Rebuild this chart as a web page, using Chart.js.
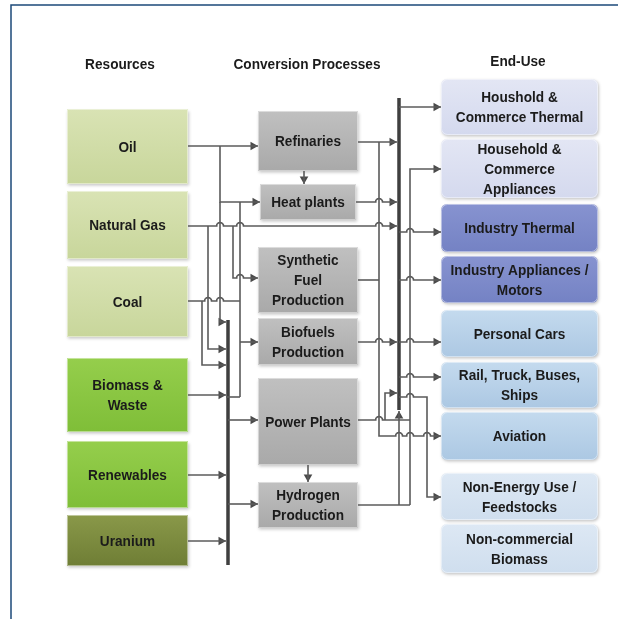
<!DOCTYPE html>
<html>
<head>
<meta charset="utf-8">
<script src="https://cdn.jsdelivr.net/npm/chart.js@4.4.1/dist/chart.umd.min.js"></script>
<style>
  html, body { margin: 0; padding: 0; background: #fff; }
  canvas { display: block; }
</style>
</head>
<body>
<canvas id="chart" width="618" height="619"></canvas>
<script>
// ---- diagram content ----
const headers = ['Resources', 'Conversion Processes', 'End-Use'];
const resources = ['Oil', 'Natural Gas', 'Coal', 'Biomass &\nWaste', 'Renewables', 'Uranium'];
const processes = ['Refinaries', 'Heat plants', 'Synthetic\nFuel\nProduction', 'Biofuels\nProduction', 'Power Plants', 'Hydrogen\nProduction'];
const endUses = [
  'Houshold &\nCommerce Thermal', 'Household &\nCommerce\nAppliances', 'Industry Thermal',
  'Industry Appliances /\nMotors', 'Personal Cars', 'Rail, Truck, Buses,\nShips',
  'Aviation', 'Non-Energy Use /\nFeedstocks', 'Non-commercial\nBiomass'
];

// ---- layout (in diagram units, one unit = one pixel) ----
const headerPos = [[120, 64], [307, 64], [518, 61]];
const resCol = [67, 188];
const resTop = [109, 191, 266, 358, 441, 515];
const resBottom = [184, 259, 337, 432, 508, 566];
const procCol = [258, 358];
const procTop = [111, 184, 247, 318, 378, 482];
const procBottom = [171, 220, 313, 365, 465, 528];
const endCol = [441, 598];
const endTop = [79, 139, 204, 256, 310, 362, 412, 473, 524];
const endBottom = [135, 198, 252, 303, 357, 408, 460, 520, 573];

const resFill = [
  ['#d9e3b4', '#c8d69b'], ['#d9e3b4', '#c8d69b'], ['#d9e3b4', '#c8d69b'],
  ['#95ce4c', '#7fbe38'], ['#95ce4c', '#7fbe38'], ['#899849', '#6f7e35']
];
const procFill = ['#c0c0c0', '#a9a9a9'];
const endFill = [
  ['#e3e6f4', '#d4d9ee'], ['#e3e6f4', '#d4d9ee'], ['#8793d0', '#7482c4'],
  ['#8793d0', '#7482c4'], ['#c4daee', '#acc8e3'], ['#c4daee', '#acc8e3'],
  ['#c4daee', '#acc8e3'], ['#dde8f4', '#cfdeee'], ['#dde8f4', '#cfdeee']
];

// ---- flows: polyline vertices, crossings drawn as hops, arrow at the end ----
const flows = [
  { pts: [[188, 146], [258, 146]], hops: [], arrow: 'r' },                 // oil -> refinaries
  { pts: [[220, 146], [220, 202], [260, 202]], hops: [], arrow: 'r' },     // oil -> heat plants
  { pts: [[220, 202], [220, 322], [226, 322]], hops: [], arrow: 'r' },     // oil -> bus
  { pts: [[188, 226], [397, 226]], hops: [220, 240, 379], arrow: 'r' },    // gas -> end-use bus
  { pts: [[208, 226], [208, 349], [226, 349]], hops: [], arrow: 'r' },     // gas -> bus
  { pts: [[233, 226], [233, 278], [258, 278]], hops: [240], arrow: 'r' },  // gas -> synthetic fuel
  { pts: [[240, 202], [240, 397]], hops: [], arrow: null },                // biomass riser
  { pts: [[240, 342], [258, 342]], hops: [], arrow: 'r' },                 // -> biofuels
  { pts: [[188, 301], [240, 301]], hops: [208, 220], arrow: null },        // coal
  { pts: [[202, 301], [202, 365], [226, 365]], hops: [], arrow: 'r' },     // coal -> bus
  { pts: [[188, 395], [226, 395]], hops: [], arrow: 'r' },                 // biomass -> bus
  { pts: [[226, 397], [240, 397]], hops: [], arrow: null },
  { pts: [[188, 475], [226, 475]], hops: [], arrow: 'r' },                 // renewables
  { pts: [[188, 541], [226, 541]], hops: [], arrow: 'r' },                 // uranium
  { pts: [[228, 420], [258, 420]], hops: [], arrow: 'r' },                 // bus -> power
  { pts: [[228, 504], [258, 504]], hops: [], arrow: 'r' },                 // bus -> hydrogen
  { pts: [[304, 171], [304, 184]], hops: [], arrow: 'd' },                 // refinaries -> heat
  { pts: [[308, 465], [308, 482]], hops: [], arrow: 'd' },                 // power -> hydrogen
  { pts: [[399, 107], [441, 107]], hops: [], arrow: 'r' },
  { pts: [[358, 142], [397, 142]], hops: [], arrow: 'r' },
  { pts: [[379, 142], [379, 436], [441, 436]], hops: [399, 410, 427], arrow: 'r' },
  { pts: [[356, 202], [397, 202]], hops: [379], arrow: 'r' },
  { pts: [[358, 280], [379, 280]], hops: [], arrow: null },
  { pts: [[358, 342], [397, 342]], hops: [379], arrow: 'r' },
  { pts: [[399, 232], [441, 232]], hops: [410], arrow: 'r' },
  { pts: [[399, 280], [441, 280]], hops: [410], arrow: 'r' },
  { pts: [[399, 342], [441, 342]], hops: [410], arrow: 'r' },
  { pts: [[399, 377], [441, 377]], hops: [410], arrow: 'r' },
  { pts: [[399, 397], [427, 397], [427, 497], [441, 497]], hops: [410], arrow: 'r' },
  { pts: [[358, 420], [410, 420]], hops: [379], arrow: null },
  { pts: [[385, 420], [385, 393], [397, 393]], hops: [], arrow: 'r' },
  { pts: [[399, 505], [399, 411]], hops: [], arrow: 'u' },
  { pts: [[358, 505], [410, 505]], hops: [], arrow: null },
  { pts: [[410, 505], [410, 169], [441, 169]], hops: [], arrow: 'r' }
];
const buses = [
  [[228, 320], [228, 565]],
  [[399, 98], [399, 410]]
];

// ---- build datasets ----
const HOP_R = 3.5;
const ARROW_R = 5;

function expand(flow) {
  const out = [];
  for (let i = 0; i < flow.pts.length; i++) {
    const [x, y] = flow.pts[i];
    if (i > 0) {
      const [px, py] = flow.pts[i - 1];
      if (py === y) {
        const dir = x > px ? 1 : -1;
        const hs = flow.hops.filter(h => (h - px) * dir > 0 && (x - h) * dir > 0)
          .sort((a, b) => (a - b) * dir);
        hs.forEach(h => {
          for (let k = 0; k <= 8; k++) {
            const a = Math.PI * (dir > 0 ? 1 - k / 8 : k / 8);
            out.push({ x: h + HOP_R * Math.cos(a), y: y - HOP_R * Math.sin(a) });
          }
        });
      }
    }
    out.push({ x, y });
  }
  return out;
}

const arrowRot = { r: 90, d: 180, u: 0 };
const arrowShift = { r: [-1, 0], d: [0, -1], u: [0, 1] };
const arrows = flows.filter(f => f.arrow).map(f => {
  const [x, y] = f.pts[f.pts.length - 1];
  const s = arrowShift[f.arrow];
  return { x: x + s[0] * ARROW_R, y: y + s[1] * ARROW_R, rot: arrowRot[f.arrow] };
});

const datasets = [];
flows.forEach(f => datasets.push({
  data: expand(f), showLine: true, borderColor: '#5b5b5b', borderWidth: 1.6,
  pointRadius: 0, tension: 0, fill: false
}));
buses.forEach(b => datasets.push({
  data: b.map(([x, y]) => ({ x, y })), showLine: true, borderColor: '#3f3f3f',
  borderWidth: 3.5, pointRadius: 0, fill: false
}));
datasets.push({
  data: arrows.map(a => ({ x: a.x, y: a.y })), showLine: false,
  pointStyle: 'triangle', pointRadius: ARROW_R, rotation: arrows.map(a => a.rot),
  backgroundColor: '#4a4a4a', borderWidth: 0
});

// ---- boxes, labels and frame ----
// the source uses a condensed bold face: taller glyphs squeezed horizontally
const FONT = 'bold 15.5px "Liberation Sans", Arial, sans-serif';
const SQUEEZE = 0.88;

function drawBox(ctx, xs, ys, x0, x1, y0, y1, fill, radius) {
  const l = xs.getPixelForValue(x0), r = xs.getPixelForValue(x1);
  const t = ys.getPixelForValue(y0), b = ys.getPixelForValue(y1);
  const g = ctx.createLinearGradient(0, t, 0, b);
  g.addColorStop(0, fill[0]);
  g.addColorStop(1, fill[1]);
  ctx.save();
  ctx.shadowColor = 'rgba(0,0,0,0.22)';
  ctx.shadowBlur = 3;
  ctx.shadowOffsetX = 1;
  ctx.shadowOffsetY = 1.5;
  ctx.beginPath();
  ctx.roundRect(l, t, r - l, b - t, radius);
  ctx.fillStyle = g;
  ctx.fill();
  ctx.restore();
  ctx.save();
  ctx.beginPath();
  ctx.roundRect(l + 0.5, t + 0.5, r - l - 1, b - t - 1, radius);
  ctx.strokeStyle = 'rgba(255,255,255,0.45)';
  ctx.lineWidth = 1;
  ctx.stroke();
  ctx.restore();
}

function drawLabel(ctx, text, cx, cy, maxW) {
  const lines = text.split('\n');
  const lh = 20;
  ctx.save();
  ctx.translate(cx, cy);
  ctx.scale(SQUEEZE, 1);
  ctx.font = FONT;
  ctx.fillStyle = '#1b1b1b';
  ctx.textAlign = 'center';
  ctx.textBaseline = 'middle';
  lines.forEach((ln, i) => {
    ctx.fillText(ln, 0, (i - (lines.length - 1) / 2) * lh + 1, maxW ? maxW / SQUEEZE : undefined);
  });
  ctx.restore();
}

const diagramPlugin = {
  id: 'diagram',
  beforeDatasetsDraw(chart) {
    const { ctx, scales: { x, y } } = chart;
    // frame
    ctx.save();
    ctx.strokeStyle = '#1d4a7a';
    ctx.lineWidth = 1.5;
    ctx.beginPath();
    ctx.moveTo(x.getPixelForValue(618), y.getPixelForValue(5));
    ctx.lineTo(x.getPixelForValue(11), y.getPixelForValue(5));
    ctx.lineTo(x.getPixelForValue(11), y.getPixelForValue(619));
    ctx.stroke();
    ctx.restore();

    headers.forEach((h, i) => drawLabel(ctx, h, x.getPixelForValue(headerPos[i][0]), y.getPixelForValue(headerPos[i][1])));

    resources.forEach((n, i) => {
      drawBox(ctx, x, y, resCol[0], resCol[1], resTop[i], resBottom[i], resFill[i], 0);
      drawLabel(ctx, n, x.getPixelForValue((resCol[0] + resCol[1]) / 2), y.getPixelForValue((resTop[i] + resBottom[i]) / 2));
    });
    processes.forEach((n, i) => {
      const c0 = i === 1 ? procCol[0] + 2 : procCol[0];
      const c1 = i === 1 ? procCol[1] - 2 : procCol[1];
      drawBox(ctx, x, y, c0, c1, procTop[i], procBottom[i], procFill, 0);
      drawLabel(ctx, n, x.getPixelForValue((c0 + c1) / 2), y.getPixelForValue((procTop[i] + procBottom[i]) / 2));
    });
    endUses.forEach((n, i) => {
      drawBox(ctx, x, y, endCol[0], endCol[1], endTop[i], endBottom[i], endFill[i], 6);
      drawLabel(ctx, n, x.getPixelForValue((endCol[0] + endCol[1]) / 2), y.getPixelForValue((endTop[i] + endBottom[i]) / 2), 146);
    });
  }
};

new Chart(document.getElementById('chart'), {
  type: 'scatter',
  data: { datasets },
  options: {
    responsive: false,
    animation: false,
    devicePixelRatio: 1,
    layout: { padding: 0, autoPadding: false },
    plugins: { legend: { display: false }, tooltip: { enabled: false } },
    scales: {
      x: { type: 'linear', min: 0, max: 618, display: false },
      y: { type: 'linear', min: 0, max: 619, reverse: true, display: false }
    }
  },
  plugins: [diagramPlugin]
});
</script>
</body>
</html>
